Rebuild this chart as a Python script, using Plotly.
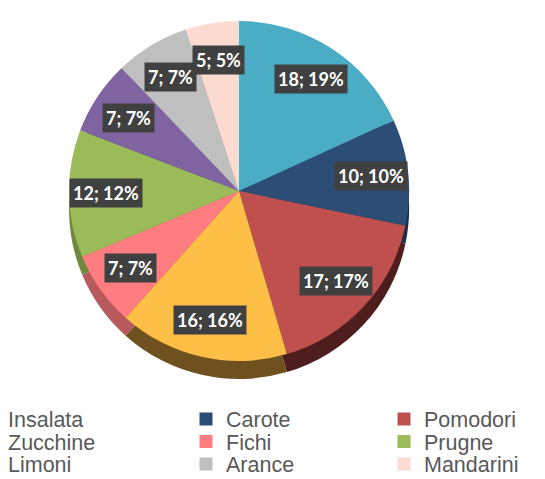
import math
import plotly.graph_objects as go

W, H = 545, 479

# ---- data ----
categories = ["Insalata", "Carote", "Pomodori", "Zucchine", "Fichi",
              "Prugne", "Limoni", "Arance", "Mandarini"]
values = [18, 10, 17, 16, 7, 12, 7, 7, 5]
percent_labels = [19, 10, 17, 16, 7, 12, 7, 7, 5]

colors = ["#4BACC6", "#2C4D75", "#C0504D", "#FDBF45", "#FF7C80",
          "#9BBB59", "#8064A2", "#BFBFBF", "#FCDCD2"]
side_colors = ["#2F6C7C", "#1A2E46", "#4E1E1E", "#6E511E", "#B85A5D",
               "#6F8A3E", "#4D3C62", "#8A8A8A", "#B89A92"]

# ---- geometry (layout only) ----
R = 170            # pie radius in px
CX, CY = 231, 183  # centre of the top face in px
DEPTH = 18         # visual thickness in px


def domain(cx, cy, r):
    return dict(x=[(cx - r) / W, (cx + r) / W],
                y=[1 - (cy + r) / H, 1 - (cy - r) / H])


fig = go.Figure()

# side (thickness) pie, drawn first, slightly lower
fig.add_trace(go.Pie(
    labels=categories, values=values, sort=False, direction="clockwise",
    rotation=0, marker=dict(colors=side_colors, line=dict(width=0)),
    textinfo="none", hoverinfo="skip", showlegend=False,
    domain=domain(CX, CY + DEPTH, R),
))

# top face
fig.add_trace(go.Pie(
    labels=categories, values=values, sort=False, direction="clockwise",
    rotation=0, marker=dict(colors=colors, line=dict(width=0)),
    textinfo="none", showlegend=False,
    customdata=percent_labels,
    hovertemplate="%{label}: %{value}; %{customdata}%<extra></extra>",
    domain=domain(CX, CY, R),
))

# data labels in dark boxes, placed at each slice's mid angle
total = sum(values)
cum = 0
annotations = []
f = 0.78
for v, p in zip(values, percent_labels):
    theta = 2 * math.pi * (cum + v / 2) / total
    cum += v
    xp = CX + f * R * math.sin(theta)
    yp = CY - f * R * math.cos(theta)
    annotations.append(dict(
        x=xp / W, y=1 - yp / H, xref="paper", yref="paper",
        text=f"{v}; {p}%", showarrow=False,
        font=dict(family="Lato", size=18, color="white", weight="bold"),
        bgcolor="#404040", borderpad=3,
        xanchor="center", yanchor="middle",
    ))

# legend: one small legend per cell, 3 x 3 grid in row-major order
col_left = [-40, 178, 376]
row_mid = [411, 433.5, 456]
legend_layouts = {}
for i, (name, c) in enumerate(zip(categories, colors)):
    key = "legend" if i == 0 else f"legend{i + 1}"
    fig.add_trace(go.Scatter(
        x=[None], y=[None], mode="markers", name=name,
        marker=dict(symbol="square", size=13, color=c),
        legend=key, showlegend=True, hoverinfo="skip",
    ))
    r, cidx = divmod(i, 3)
    legend_layouts[key] = dict(
        x=col_left[cidx] / W, y=1 - row_mid[r] / H,
        xanchor="left", yanchor="middle",
        bgcolor="rgba(0,0,0,0)", borderwidth=0,
        font=dict(family="Arial, Liberation Sans", size=21.5, color="#595959"),
        itemclick=False, itemdoubleclick=False,
    )

fig.update_layout(
    width=W, height=H,
    margin=dict(l=0, r=0, t=0, b=0, autoexpand=False),
    paper_bgcolor="white", plot_bgcolor="white",
    xaxis=dict(visible=False), yaxis=dict(visible=False),
    annotations=annotations,
    **legend_layouts,
)

fig.write_html("out.html")
